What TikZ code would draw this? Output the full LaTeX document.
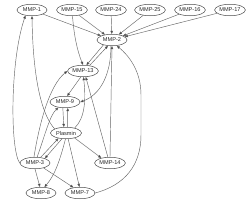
\documentclass[tikz,border=0pt]{standalone}
\usepackage{fontspec}
\setmainfont{Liberation Sans}
\usetikzlibrary{shapes.geometric,arrows.meta}
\begin{document}
\begin{tikzpicture}[x=1pt,y=-1pt,
  mmp/.style={ellipse,draw=black!70,line width=0.5pt,minimum height=11.5pt,minimum width=30pt,inner sep=0.3pt,font=\fontsize{5.6}{6.5}\selectfont,text=black!85},
  edge/.style={draw=black!60,line width=0.45pt,-{Triangle[length=3.2pt,width=2.6pt,fill=black!85]}}]
\fill[white] (0,0) rectangle (250,204);
\useasboundingbox (0,0) rectangle (250,204);
\node[mmp] (m1) at (32,10) {MMP-1};
\node[mmp] (m15) at (72,10) {MMP-15};
\node[mmp] (m24) at (111,10) {MMP-24};
\node[mmp] (m25) at (150,10) {MMP-25};
\node[mmp] (m16) at (190,10) {MMP-16};
\node[mmp] (m17) at (230,10) {MMP-17};
\node[mmp] (m2) at (112,40) {MMP-2};
\node[mmp] (m13) at (83,71) {MMP-13};
\node[mmp] (m9) at (65,102) {MMP-9};
\node[mmp,minimum width=31pt] (pl) at (66,133) {Plasmin};
\node[mmp] (m3) at (35,163) {MMP-3};
\node[mmp] (m14) at (110,163) {MMP-14};
\node[mmp] (m8) at (41,193) {MMP-8};
\node[mmp] (m7) at (80,193) {MMP-7};
% top row to MMP-2
\draw[edge] (m1) -- (m2);
\draw[edge] (m15) -- (m2);
\draw[edge] (m24) -- (m2);
\draw[edge] (m25) -- (m2);
\draw[edge] (m16) -- (m2);
\draw[edge] (m17) -- (m2);
\draw[edge] (m15) .. controls (74,35) and (77,50) .. (m13.north);
% MMP-2 <-> MMP-13
\draw[edge] (m2.210) -- (m13.60);
\draw[edge] (m13.40) -- (m2.235);
% MMP-2 -> MMP-9
\draw[edge] (m2.260) .. controls (111,75) and (100,95) .. (m9.east);
\draw[edge] (m13.250) -- (m9.70);
% MMP-9 <-> Plasmin
\draw[edge] (m9.250) -- (pl.110);
\draw[edge] (pl.75) -- (m9.295);
% Plasmin -> MMP-13
\draw[edge] (pl.30) .. controls (85,118) and (86,100) .. (m13.275);
% MMP-14
\draw[edge] (m14.north) -- (m2.south);
\draw[edge] (m14.110) -- (m13.295);
% MMP-7 -> MMP-2
\draw[edge] (m7.east) .. controls (125,185) and (141,165) .. (141,135) -- (141,95) .. controls (141,70) and (128,55) .. (m2.310);
% Plasmin -> MMP-1
\draw[edge] (pl.160) .. controls (42,115) and (33,80) .. (m1.south);
% MMP-3 -> MMP-1
\draw[edge] (m3.west) .. controls (10,150) and (10,60) .. (m1.220);
% MMP-3 -> MMP-13
\draw[edge] (m3.100) .. controls (40,120) and (50,85) .. (m13.west);
% MMP-3 -> MMP-9
\draw[edge] (m3.70) .. controls (45,135) and (50,115) .. (m9.220);
% MMP-3 <-> Plasmin
\draw[edge] (m3.45) -- (pl.215);
\draw[edge] (pl.235) -- (m3.25);
% Plasmin -> MMP-14, MMP-8, MMP-7
\draw[edge] (pl.330) -- (m14.150);
\draw[edge] (pl.265) .. controls (60,160) and (55,175) .. (m8.60);
\draw[edge] (pl.290) -- (m7.95);
% MMP-3 -> MMP-8, MMP-7
\draw[edge] (m3.270) -- (m8.100);
\draw[edge] (m3.330) -- (m7.140);
\end{tikzpicture}
\end{document}
